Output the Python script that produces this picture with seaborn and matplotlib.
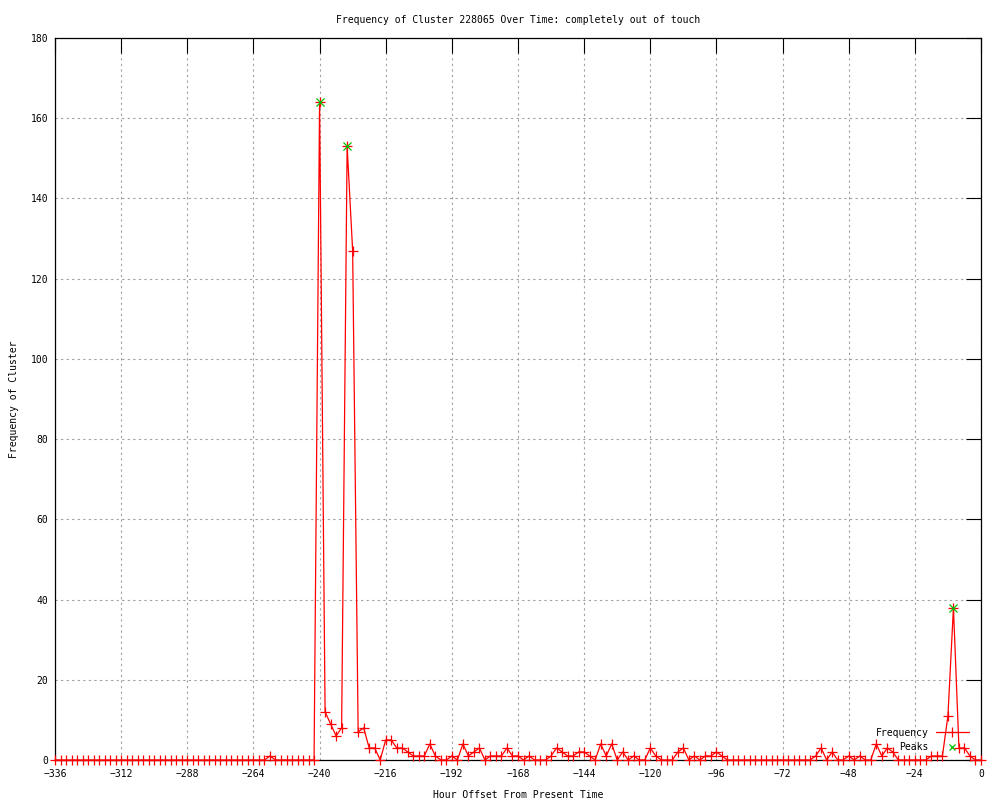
import matplotlib
matplotlib.use("Agg")
import matplotlib.pyplot as plt
import seaborn as sns
import pandas as pd
from matplotlib.lines import Line2D

# x positions: one sample every 2 hours from -336 to 0
hours = list(range(-336, 1, 2))
frequency = [
    0, 0, 0, 0, 0, 0, 0, 0, 0, 0, 0, 0,          # -336 .. -314
    0, 0, 0, 0, 0, 0, 0, 0, 0, 0, 0, 0,          # -312 .. -290
    0, 0, 0, 0, 0, 0, 0, 0, 0, 0, 0, 0,          # -288 .. -266
    0, 0, 0, 1, 0, 0, 0, 0, 0, 0, 0, 0,          # -264 .. -242
    164, 12, 9, 6, 8, 153, 127, 7, 8, 3, 3, 0,   # -240 .. -218
    5, 5, 3, 3, 2, 1, 1, 1, 4, 1, 0, 0,          # -216 .. -194
    1, 0, 4, 1, 2, 3, 0, 1, 1, 1, 3, 1,          # -192 .. -170
    1, 0, 1, 0, 0, 0, 1, 3, 2, 1, 1, 2,          # -168 .. -146
    2, 1, 0, 4, 1, 4, 0, 2, 0, 1, 0, 0,          # -144 .. -122
    3, 1, 0, 0, 0, 2, 3, 0, 1, 0, 1, 1,          # -120 .. -98
    2, 1, 0, 0, 0, 0, 0, 0, 0, 0, 0, 0,          # -96 .. -74
    0, 0, 0, 0, 0, 0, 1, 3, 0, 2, 0, 0,          # -72 .. -50
    1, 0, 1, 0, 0, 4, 1, 3, 2, 0, 0, 0,          # -48 .. -26
    0, 0, 0, 1, 1, 1, 11, 38, 3, 3, 1, 0,        # -24 .. -2
    0,                                           # 0
]
peak_hours = [-240, -230, -10]
peak_values = [164, 153, 38]
x_ticks = list(range(-336, 1, 24))
y_ticks = list(range(0, 181, 20))

title = "Frequency of Cluster 228065 Over Time: completely out of touch"
x_label = "Hour Offset From Present Time"
y_label = "Frequency of Cluster"

sns.set_style("white")
plt.rcParams['font.family'] = ['DejaVu Sans Mono', 'DejaVu Sans']
plt.rcParams['font.size'] = 7
plt.rcParams['text.color'] = 'black'
plt.rcParams['axes.labelcolor'] = 'black'
plt.rcParams['xtick.color'] = 'black'
plt.rcParams['ytick.color'] = 'black'

RED = "#ff0000"
GREEN = "#00c000"

fig = plt.figure(figsize=(10, 8), dpi=100)
ax = fig.add_axes([0.055, 0.05, 0.926, 0.9025])

df = pd.DataFrame({"hour": hours, "freq": frequency})
sns.lineplot(data=df, x="hour", y="freq", ax=ax, color=RED, linewidth=0.9,
             marker="+", markersize=7, markeredgewidth=0.9,
             markeredgecolor=RED, legend=False, zorder=6, clip_on=False)
pk = pd.DataFrame({"hour": peak_hours, "val": peak_values})
sns.scatterplot(data=pk, x="hour", y="val", ax=ax, marker="x", color=GREEN,
                s=34, linewidth=0.9, legend=False, zorder=7)

ax.set_xlim(-336, 0)
ax.set_ylim(0, 180)
ax.set_xticks(x_ticks)
ax.set_yticks(y_ticks)
ax.tick_params(axis="both", direction="in", length=11, width=0.8,
               top=True, right=True, labelsize=7, color="black",
               labelcolor="black", pad=5)
ax.tick_params(axis="x", pad=6.5)
ax.grid(True, color="#a0a0a0", linestyle=(0, (2, 3)), linewidth=0.8)
for s in ax.spines.values():
    s.set_color("black")
    s.set_linewidth(0.9)
    s.set_zorder(5)

ax.set_title(title, fontsize=7, pad=11, color="black")
ax.set_xlabel(x_label, fontsize=7, labelpad=8, color="black")
ax.set_ylabel(y_label, fontsize=7, labelpad=8, color="black")

handles = [
    Line2D([], [], color=RED, linewidth=0.9, marker="+", markersize=7,
           markeredgewidth=0.9),
    Line2D([], [], color=GREEN, linestyle="", marker="x", markersize=5,
           markeredgewidth=0.9),
]
leg = ax.legend(handles, ["Frequency", "Peaks"], loc="lower right",
                bbox_to_anchor=(0.992, 0.004), frameon=False, markerfirst=False,
                handlelength=3.4, handletextpad=0.7, labelspacing=0.45,
                borderpad=0, fontsize=7)
for t in leg.get_texts():
    t.set_color("black")

fig.savefig("out.png", dpi=100)
